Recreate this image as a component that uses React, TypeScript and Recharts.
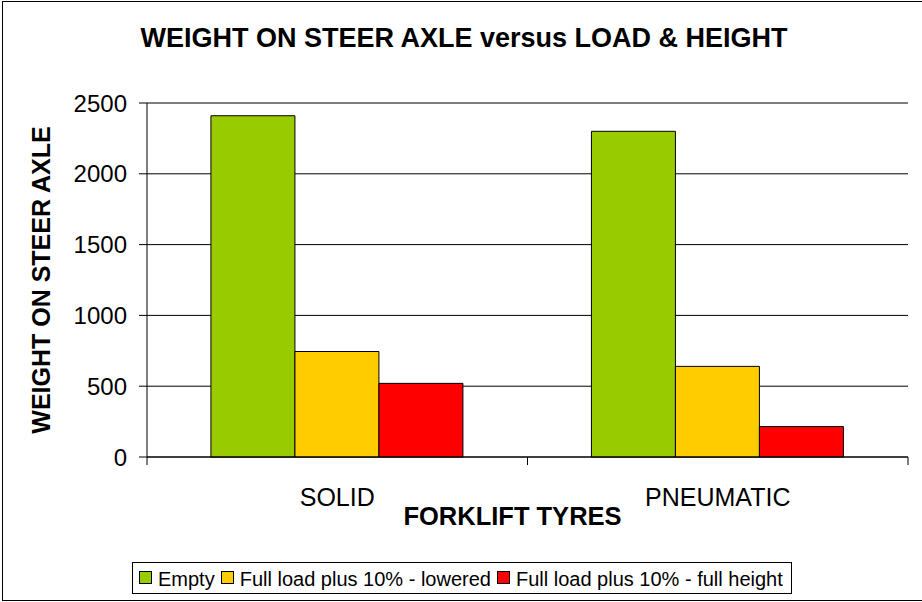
import { BarChart, Bar, XAxis, YAxis, CartesianGrid, Legend, Label } from "recharts";

const categories = ["SOLID", "PNEUMATIC"];
const emptyWeight = [2410, 2300];
const loweredWeight = [745, 640];
const fullHeightWeight = [520, 215];
const yTicks = [0, 500, 1000, 1500, 2000, 2500];

const seriesNames = ["Empty", "Full load plus 10% - lowered", "Full load plus 10% - full height"];
const seriesColors = ["#99CC00", "#FFCC00", "#FF0000"];

const data = categories.map((tyre, i) => ({
  tyre,
  empty: emptyWeight[i],
  lowered: loweredWeight[i],
  fullHeight: fullHeightWeight[i],
}));

const FONT = '"Liberation Sans", Arial, sans-serif';
const TICK_SIZE = 8;
const TICK_MARGIN = 23;

// category labels plus the small tick marks that sit between the categories
function TyreTick(props: any) {
  const { x, y, payload, index, visibleTicksCount } = props;
  const half = payload.offset ?? 0;
  const axisY = y - TICK_SIZE - TICK_MARGIN;
  const last = index === visibleTicksCount - 1;
  return (
    <g>
      <line x1={x - half} x2={x - half} y1={axisY} y2={axisY + TICK_SIZE} stroke="#000" />
      {last && <line x1={x + half} x2={x + half} y1={axisY} y2={axisY + TICK_SIZE} stroke="#000" />}
      <text x={x} y={y} dy="0.71em" textAnchor="middle" fontSize={25} fontFamily={FONT} fill="#000">
        {payload.value}
      </text>
    </g>
  );
}

// legend keeps the series order (recharts would sort it by name)
function LegendBox() {
  return (
    <div
      style={{
        border: "1px solid #000",
        padding: "2px 2px 0 6px",
        lineHeight: "28px",
        fontSize: 20,
        fontFamily: FONT,
        color: "#000",
        whiteSpace: "nowrap",
        background: "#fff",
      }}
    >
      {seriesNames.map((name, i) => (
        <span key={name} style={{ marginRight: 6 }}>
          <span
            style={{
              display: "inline-block",
              width: 11,
              height: 11,
              border: "1px solid #000",
              background: seriesColors[i],
              marginRight: 6,
              marginBottom: 2,
              verticalAlign: "baseline",
            }}
          />
          {name}
        </span>
      ))}
    </div>
  );
}

export default function App() {
  return (
    <div style={{ position: "absolute", left: 0, top: 0, width: 922, height: 602, overflow: "hidden", background: "#fff" }}>
      <div
        style={{
          position: "absolute",
          left: 2,
          top: 1,
          width: 940,
          height: 600,
          boxSizing: "border-box",
          border: "1px solid #000",
        }}
      />
      <div
        style={{
          position: "absolute",
          left: 3,
          top: 25,
          width: 922,
          textAlign: "center",
          fontFamily: FONT,
          fontWeight: "bold",
          fontSize: 27,
          lineHeight: "27px",
          color: "#000",
        }}
      >
        WEIGHT ON STEER AXLE versus LOAD &amp; HEIGHT
      </div>
      <div style={{ position: "absolute", left: 0, top: 0 }}>
        <BarChart
          width={922}
          height={602}
          data={data}
          margin={{ top: 103, right: 14, bottom: 65, left: 0 }}
          barGap={0}
          barCategoryGap="16.8%"
        >
          <CartesianGrid vertical={false} stroke="#000" />
          <XAxis
            dataKey="tyre"
            height={80}
            axisLine={{ stroke: "#000" }}
            tickLine={false}
            tickSize={TICK_SIZE}
            tickMargin={TICK_MARGIN}
            tick={<TyreTick />}
            interval={0}
          >
            <Label
              content={({ viewBox }: any) => (
                <text
                  x={viewBox.x + viewBox.width / 2 - 15}
                  y={viewBox.y + 68}
                  textAnchor="middle"
                  fontSize={25.5}
                  fontWeight="bold"
                  fontFamily={FONT}
                  fill="#000"
                >
                  FORKLIFT TYRES
                </text>
              )}
            />
          </XAxis>
          <YAxis
            width={147}
            domain={[0, 2500]}
            ticks={yTicks}
            axisLine={{ stroke: "#000" }}
            tickLine={{ stroke: "#000" }}
            tickSize={TICK_SIZE}
            tickMargin={12}
            tick={{ fontSize: 24, fontFamily: FONT, fill: "#000" }}
          >
            <Label
              content={({ viewBox }: any) => {
                const cx = viewBox.x + 50;
                const cy = viewBox.y + viewBox.height / 2;
                return (
                  <text
                    x={cx}
                    y={cy}
                    transform={`rotate(-90 ${cx} ${cy})`}
                    textAnchor="middle"
                    fontSize={25}
                    fontWeight="bold"
                    fontFamily={FONT}
                    fill="#000"
                  >
                    WEIGHT ON STEER AXLE
                  </text>
                );
              }}
            />
          </YAxis>
          <YAxis
            yAxisId="frame"
            orientation="right"
            width={0}
            domain={[0, 2500]}
            tick={false}
            tickLine={false}
            axisLine={{ stroke: "#c0c0c0" }}
          />
          <Legend
            layout="horizontal"
            verticalAlign="middle"
            align="center"
            wrapperStyle={{ left: 132, top: 562, width: "auto", height: "auto" }}
            content={<LegendBox />}
          />
          <Bar dataKey="empty" name={seriesNames[0]} fill={seriesColors[0]} stroke="#000" isAnimationActive={false} />
          <Bar dataKey="lowered" name={seriesNames[1]} fill={seriesColors[1]} stroke="#000" isAnimationActive={false} />
          <Bar dataKey="fullHeight" name={seriesNames[2]} fill={seriesColors[2]} stroke="#000" isAnimationActive={false} />
        </BarChart>
      </div>
    </div>
  );
}
